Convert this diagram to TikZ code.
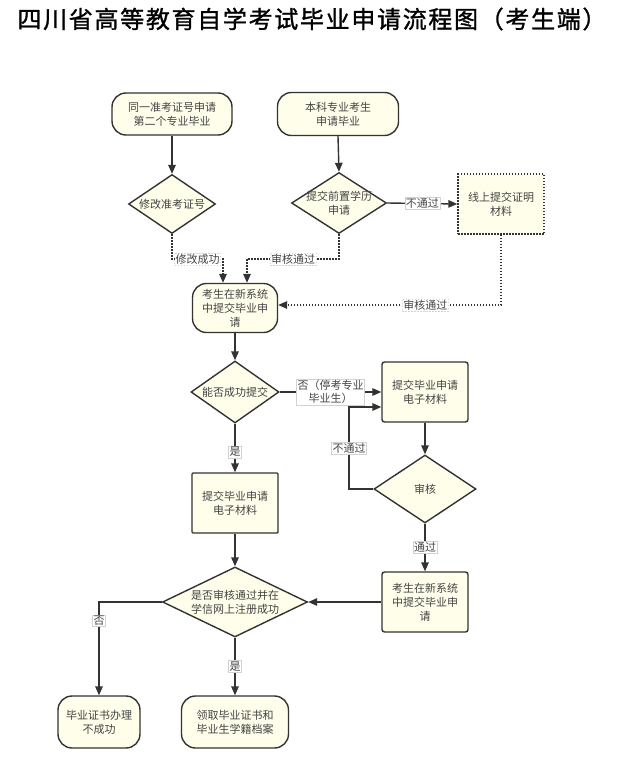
\documentclass[tikz,border=0pt]{standalone}
\usepackage{fontspec}
\setmainfont{Noto Sans CJK SC}
\newfontfamily\titlefont[FakeBold=1.2,LetterSpace=7]{Noto Sans CJK SC}
\usetikzlibrary{shapes.geometric,arrows.meta}
\definecolor{boxfill}{HTML}{FEFEEA}
\definecolor{ink}{HTML}{333333}
\definecolor{txtc}{HTML}{444444}
\begin{document}
\begin{tikzpicture}[x=1pt,y=-1pt,
  base/.style={draw=ink, line width=1.4pt, fill=boxfill, text=txtc, font=\fontsize{11}{14}\selectfont, align=center, inner sep=0pt},
  term/.style={base, rectangle, rounded corners=14pt},
  proc/.style={base, rectangle, rounded corners=2.5pt},
  dotbox/.style={base, rectangle, dash pattern=on 1.5pt off 1.5pt},
  dec/.style={base, diamond},
  txt/.style={text=txtc, font=\fontsize{11}{14}\selectfont, align=center, inner sep=0pt},
  arr/.style={draw=ink, line width=1.4pt, -{Triangle[length=9pt,width=7.5pt]}},
  dotarr/.style={arr, dash pattern=on 1.5pt off 1.5pt},
  lab/.style={fill=white, draw=gray!35, line width=0.4pt, text=txtc, font=\fontsize{11}{13}\selectfont, inner sep=1pt, align=center}
]
\useasboundingbox (0,0) rectangle (631,765);
\node[font=\titlefont\fontsize{24}{28}\selectfont, text=black, inner sep=0pt] (T) at (312,19) {四川省高等教育自学考试毕业申请流程图（考生端）};

\node[term, minimum width=120pt, minimum height=42pt] (A) at (172,114) {同一准考证号申请\\第二个专业毕业};
\node[term, minimum width=121pt, minimum height=43pt] (B) at (338,114) {本科专业考生\\申请毕业};
\node[dec, minimum width=87pt, minimum height=59pt] (C) at (172,204) {};
\node[txt] (Ct) at (C) {修改准考证号};
\node[dec, minimum width=95pt, minimum height=61pt] (D) at (339,203) {};
\node[txt] (Dt) at (D) {提交前置学历\\申请};
\node[dotbox, minimum width=86pt, minimum height=60pt] (E) at (501,204) {线上提交证明\\材料};
\node[term, minimum width=85pt, minimum height=49pt] (F) at (235,308) {考生在新系统\\中提交毕业申\\请};
\node[dec, minimum width=88pt, minimum height=62pt] (G) at (235,392) {};
\node[txt] (Gt) at (G) {能否成功提交};
\node[proc, minimum width=86pt, minimum height=60pt] (H) at (425,392) {提交毕业申请\\电子材料};
\node[dec, minimum width=102pt, minimum height=68pt] (I) at (425,489) {};
\node[txt] (It) at (I) {审核};
\node[proc, minimum width=86pt, minimum height=60pt] (J) at (425,602) {考生在新系统\\中提交毕业申\\请};
\node[proc, rounded corners=1pt, minimum width=86pt, minimum height=60pt] (K) at (235,503) {提交毕业申请\\电子材料};
\node[dec, minimum width=145pt, minimum height=70pt] (L) at (235,602) {};
\node[txt] (Lt) at (L) {是否审核通过并在\\学信网上注册成功};
\node[term, minimum width=82pt, minimum height=52pt] (M) at (99,722) {毕业证书办理\\不成功};
\node[term, minimum width=107pt, minimum height=52pt] (N) at (235,722) {领取毕业证书和\\毕业生学籍档案};

\coordinate (k1) at (223,259);
\coordinate (k2) at (247,259);
\coordinate (ib) at (349,407);

\draw[arr] (A.south) -- (C.north);
\draw[arr] (B.south) -- (D.north);
\draw[arr] (D.east) -- node[lab]{不通过} (E.west);
\draw[dotarr] (C.south) |- node[lab,pos=0.75]{修改成功} (k1) -- ([xshift=-12pt]F.north);
\draw[dotarr] (D.south) |- node[lab,pos=0.75]{审核通过} (k2) -- ([xshift=12pt]F.north);
\draw[dotarr] (E.south) |- node[lab,pos=0.67]{审核通过} ([yshift=3pt]F.east);
\draw[arr] (F.south) -- (G.north);
\draw[arr] (I.west) -| node[lab,pos=0.75]{不通过} (ib) -- ([yshift=-15pt]H.west);
\draw[arr] (G.east) -- node[lab]{否（停考专业\\毕业生）} (H.west);
\draw[arr] (H.south) -- (I.north);
\draw[arr] (I.south) -- node[lab]{通过} (J.north);
\draw[arr] (G.south) -- node[lab,pos=0.58]{是} (K.north);
\draw[arr] (K.south) -- (L.north);
\draw[arr] (J.west) -- (L.east);
\draw[arr] (L.west) -| node[lab,pos=0.6]{否} (M.north);
\draw[arr] (L.south) -- node[lab]{是} (N.north);
\end{tikzpicture}
\end{document}
